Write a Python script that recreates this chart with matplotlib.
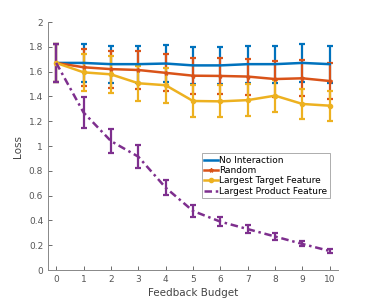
import matplotlib
matplotlib.use('Agg')
import matplotlib.pyplot as plt
import numpy as np

budget = np.arange(11)

no_interaction = [1.67, 1.67, 1.66, 1.66, 1.665, 1.65, 1.65, 1.66, 1.66, 1.67, 1.66]
no_interaction_err = [0.15, 0.15, 0.15, 0.15, 0.15, 0.15, 0.15, 0.15, 0.15, 0.15, 0.15]

random_sel = [1.67, 1.635, 1.62, 1.613, 1.59, 1.567, 1.565, 1.56, 1.54, 1.546, 1.524]
random_err = [0.15, 0.15, 0.15, 0.15, 0.15, 0.145, 0.145, 0.145, 0.145, 0.145, 0.145]

target_feat = [1.67, 1.594, 1.578, 1.506, 1.49, 1.363, 1.36, 1.37, 1.406, 1.339, 1.325]
target_err = [0.15, 0.15, 0.15, 0.14, 0.14, 0.13, 0.13, 0.13, 0.13, 0.12, 0.12]

product_feat = [1.67, 1.27, 1.04, 0.914, 0.664, 0.476, 0.39, 0.33, 0.27, 0.21, 0.153]
product_err = [0.15, 0.125, 0.1, 0.095, 0.06, 0.045, 0.034, 0.03, 0.025, 0.02, 0.015]

labels = ['No Interaction', 'Random', 'Largest Target Feature', 'Largest Product Feature']

fig = plt.figure(figsize=(3.74, 3.04), dpi=100)
ax = fig.add_axes([48 / 374, 34 / 304, 290 / 374, 248 / 304])

eb = dict(elinewidth=1.6, capsize=2.5, capthick=1.6)
c1 = ax.errorbar(budget, no_interaction, yerr=no_interaction_err, color='#0072BD',
                 lw=1.8, **eb)
c2 = ax.errorbar(budget, random_sel, yerr=random_err, color='#D95319', lw=1.8,
                 marker='*', ms=3, **eb)
c3 = ax.errorbar(budget, target_feat, yerr=target_err, color='#EDB120', lw=1.8,
                 marker='o', ms=3, **eb)
c4 = ax.errorbar(budget, product_feat, yerr=product_err, color='#7E2F8E', lw=1.8,
                 ls=(0, (3, 1.5, 1, 1.5)), **eb)

ax.set_xlim(-0.3, 10.3)
ax.set_ylim(0, 2)
ax.set_xticks(range(11))
ax.set_yticks(np.arange(0, 2.01, 0.2))
ax.set_yticklabels(['0', '0.2', '0.4', '0.6', '0.8', '1', '1.2', '1.4', '1.6', '1.8', '2'])
ax.tick_params(direction='in', length=3, labelsize=6.5, colors='#555555', width=0.6)
for s in ['top', 'right']:
    ax.spines[s].set_visible(False)
for s in ['left', 'bottom']:
    ax.spines[s].set_color('#888888')
    ax.spines[s].set_linewidth(0.7)

ax.set_xlabel('Feedback Budget', fontsize=7.5, color='#444444', labelpad=3)
ax.set_ylabel('Loss', fontsize=7.5, color='#444444', labelpad=4)

handles = [c[0] for c in (c1, c2, c3, c4)]
leg = ax.legend(handles, labels, loc='upper left', bbox_to_anchor=(0.53, 0.47),
                fontsize=6.5, frameon=True, fancybox=False, borderpad=0.25,
                handlelength=1.6, handletextpad=0.1, labelspacing=0.15,
                borderaxespad=0)
leg.get_frame().set_edgecolor('#888888')
leg.get_frame().set_linewidth(0.6)

fig.savefig('out.png', dpi=100)
